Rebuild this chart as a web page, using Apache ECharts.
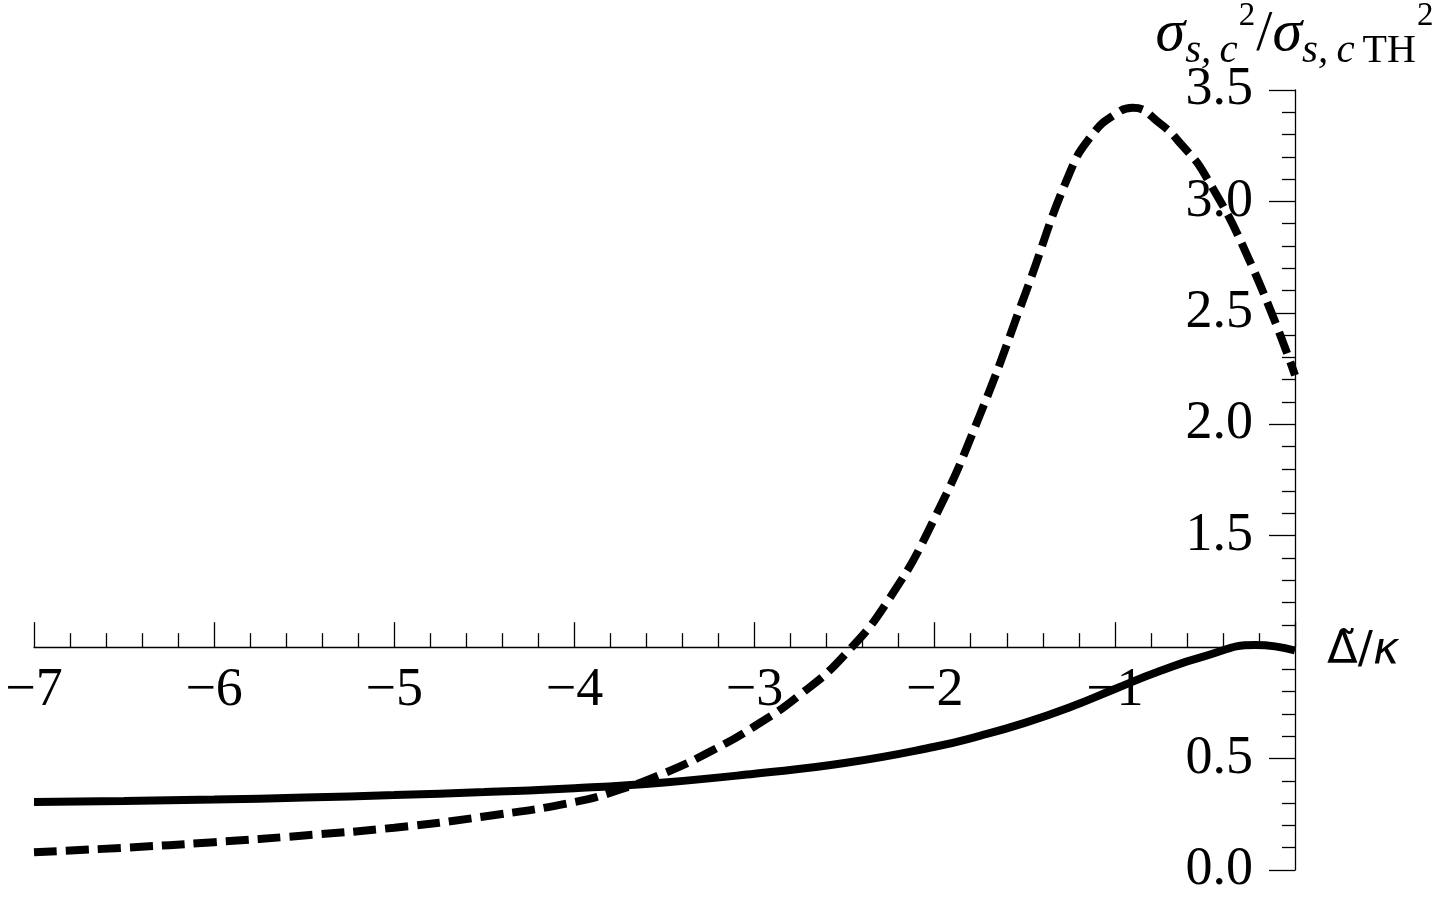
<!DOCTYPE html>
<html>
<head>
<meta charset="utf-8">
<title>sigma ratio vs detuning</title>
<script src="https://cdn.jsdelivr.net/npm/echarts@6/dist/echarts.min.js"></script>
<style>
  html, body { margin: 0; padding: 0; background: #fff; }
  #chart { width: 1440px; height: 903px; }
</style>
</head>
<body>
<div id="chart"></div>
<script>
// solid curve
const solidX = [-7, -6.5, -6, -5.5, -5, -4.5, -4, -3.5, -3, -2.5, -2, -1.75, -1.5, -1.25, -1, -0.75, -0.5, -0.22, 0]
const solidY = [0.305, 0.31, 0.316, 0.325, 0.336, 0.35, 0.367, 0.393, 0.432, 0.48, 0.553, 0.602, 0.66, 0.73, 0.812, 0.893, 0.96, 1.01, 0.985]

// dashed curve
const dashedX = [-7, -6.5, -6, -5.5, -5, -4.5, -4, -3.75, -3.5, -3.25, -3, -2.75, -2.5, -2.25, -2, -1.75, -1.5, -1.25, -1.125, -1, -0.9, -0.75, -0.625, -0.5, -0.25, 0]
const dashedY = [0.08, 0.1, 0.125, 0.155, 0.19, 0.24, 0.305, 0.36, 0.435, 0.53, 0.645, 0.785, 0.965, 1.22, 1.58, 2.04, 2.58, 3.13, 3.3, 3.39, 3.42, 3.35, 3.25, 3.12, 2.73, 2.22]

// axis ranges / ticks
const xMin = -7, xMax = 0, xStep = 1
const yMin = 0, yMax = 3.5, yStep = 0.5
const xCross = 1 // x axis drawn at this y value

const serif = '"Liberation Serif", "DejaVu Serif", serif'

const grid = { left: 34, right: 145, top: 90, bottom: 33, outerBoundsMode: 'none' }
const gridH = 903 - grid.top - grid.bottom

const chart = echarts.init(document.getElementById('chart'))

const option = {
  animation: false,
  backgroundColor: '#fff',
  grid: grid,
  xAxis: {
    type: 'value',
    min: xMin,
    max: xMax,
    interval: xStep,
    position: 'bottom',
    offset: -gridH * (xCross - yMin) / (yMax - yMin),
    axisLine: { onZero: false, lineStyle: { color: '#000', width: 1.3 } },
    axisTick: { inside: true, length: 25, lineStyle: { color: '#000', width: 1.3 } },
    minorTick: { show: true, splitNumber: 5, length: 14, lineStyle: { color: '#000', width: 1.3 } },
    splitLine: { show: false },
    axisLabel: {
      margin: 17,
      color: '#000',
      fontFamily: serif,
      fontSize: 54,
      formatter: (v) => (v === 0 ? '' : String(v).replace('-', '\u2212')),
    },
    name: '{d|\u0394\u0303/}{k|\u03ba}',
    nameLocation: 'end',
    nameGap: 32,
    nameMoveOverlap: false,
    nameTextStyle: {
      rich: {
        d: { fontFamily: '"DejaVu Sans", sans-serif', fontSize: 45, color: '#000', padding: [8, 0, 0, 0] },
        k: { fontFamily: '"DejaVu Sans", sans-serif', fontSize: 45, fontStyle: 'italic', color: '#000', padding: [8, 0, 0, 0] },
      },
    },
  },
  yAxis: {
    type: 'value',
    min: yMin,
    max: yMax,
    interval: yStep,
    position: 'right',
    axisLine: { show: true, onZero: false, lineStyle: { color: '#000', width: 1.3 } },
    axisTick: { show: true, inside: true, length: 26, lineStyle: { color: '#000', width: 1.3 } },
    minorTick: { show: true, splitNumber: 5, length: 13, lineStyle: { color: '#000', width: 1.3 } },
    splitLine: { show: false },
    axisLabel: {
      inside: true,
      margin: 42,
      color: '#000',
      fontFamily: serif,
      fontSize: 54,
      formatter: (v) => (Math.abs(v - xCross) < 1e-9 ? '' : v.toFixed(1)),
    },
    name: '{g|\u03c3}{sb|s,\u2009c}{sp|2}{sl|/}{g|\u03c3}{sb|s,\u2009c}{sr|\u2009TH}{sp|2}',
    nameLocation: 'end',
    nameGap: 18,
    nameMoveOverlap: false,
    nameTextStyle: {
      rich: {
        g: { fontFamily: serif, fontStyle: 'italic', fontSize: 60, color: '#000' },
        sl: { fontFamily: serif, fontSize: 58, color: '#000' },
        sb: { fontFamily: serif, fontStyle: 'italic', fontSize: 41, color: '#000', padding: [34, 0, 0, 0] },
        sr: { fontFamily: serif, fontSize: 40, color: '#000', padding: [34, 0, 0, 0] },
        sp: { fontFamily: serif, fontSize: 33, color: '#000', padding: [0, 1, 36, 1] },
      },
    },
  },
  series: [
    {
      name: 'solid',
      type: 'line',
      smooth: true,
      symbol: 'none',
      lineStyle: { color: '#000', width: 8 },
      data: solidX.map((x, i) => [x, solidY[i]]),
    },
    {
      name: 'dashed',
      type: 'line',
      smooth: true,
      symbol: 'none',
      lineStyle: { color: '#000', width: 8, type: [23, 9], cap: 'butt' },
      data: dashedX.map((x, i) => [x, dashedY[i]]),
    },
  ],
}

chart.setOption(option)
</script>
</body>
</html>
